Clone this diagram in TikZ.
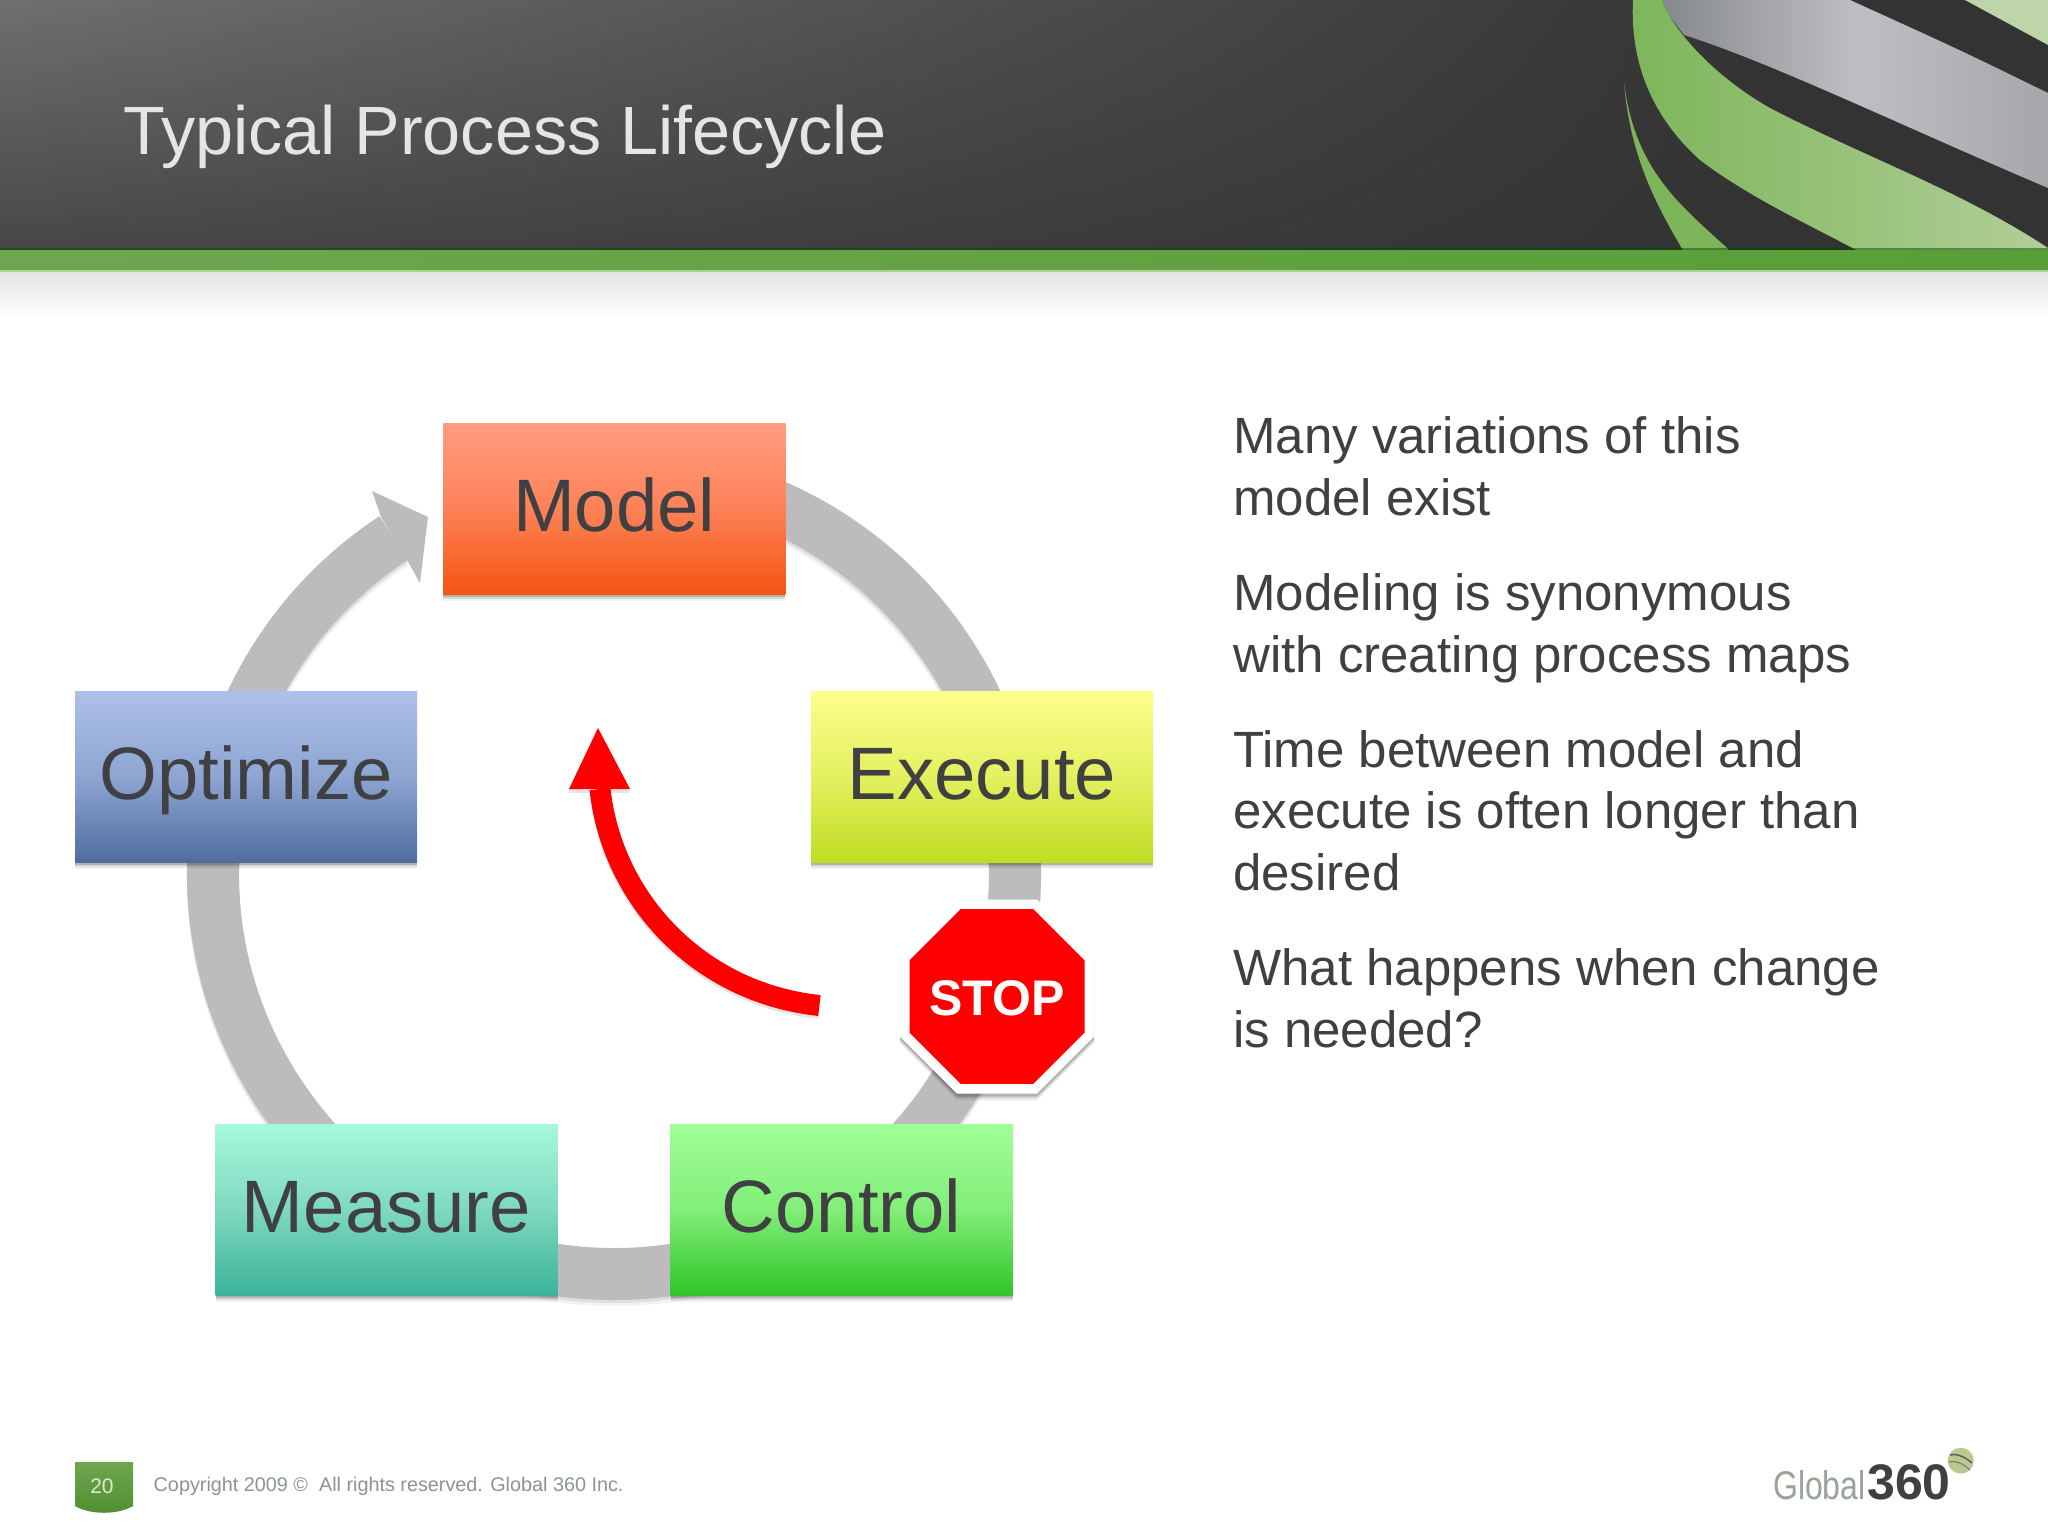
\documentclass[tikz,border=0pt]{standalone}
\usepackage{fontspec}
\setmainfont{Liberation Sans}
\usetikzlibrary{shapes.geometric,shadows,fadings,calc}
\definecolor{inkc}{HTML}{404042}
\definecolor{ringc}{HTML}{BDBBBE}
\definecolor{stopred}{HTML}{FF0000}
\definecolor{hdark}{HTML}{333333}
\definecolor{htop}{HTML}{707070}
\definecolor{hbot}{HTML}{484848}
\definecolor{bandl}{HTML}{6EA650}
\definecolor{bandr}{HTML}{589E36}
\definecolor{gra}{HTML}{7DB65A}
\definecolor{grb}{HTML}{B2CE98}
\definecolor{sla}{HTML}{85888C}
\definecolor{slb}{HTML}{BEBFC3}
\definecolor{slc}{HTML}{A6A7AB}
\definecolor{bandlite}{HTML}{A8D58E}
\definecolor{badgetxt}{HTML}{DCEDD0}
\definecolor{copytxt}{HTML}{8C9396}
\definecolor{globaltxt}{HTML}{98A498}
\definecolor{globec}{HTML}{B9C98F}
\definecolor{mta}{HTML}{FF9C80}\definecolor{mtm}{HTML}{FD8258}\definecolor{mtb}{HTML}{F45511}
\definecolor{exa}{HTML}{FCFE8C}\definecolor{exm}{HTML}{E4F060}\definecolor{exb}{HTML}{BFDD22}
\definecolor{opa}{HTML}{ADC0E8}\definecolor{opm}{HTML}{8EA5D2}\definecolor{opb}{HTML}{4E6D9F}
\definecolor{mea}{HTML}{A6F8DE}\definecolor{mem}{HTML}{7FD9BE}\definecolor{meb}{HTML}{3AB39A}
\definecolor{coa}{HTML}{A0FF96}\definecolor{com}{HTML}{82EE78}\definecolor{cob}{HTML}{2FC529}
\tikzset{
  softshade/.style={
    general shadow={fill=black,opacity=.05,shadow xshift=0pt,shadow yshift=-7pt},
    general shadow={fill=black,opacity=.10,shadow xshift=0pt,shadow yshift=-5pt},
    general shadow={fill=black,opacity=.18,shadow xshift=0pt,shadow yshift=-3pt}},
  stagebox/.style={rectangle,softshade,minimum width=342pt,minimum height=171pt,inner sep=0pt,
    text=inkc,font=\fontsize{74.3}{80}\selectfont,text height=52pt,text depth=7pt},
  bodytext/.style={anchor=base west,inner sep=0pt,align=left,text=inkc,font=\fontsize{51}{61.5}\selectfont},
  ringline/.style={line width=52pt,draw=ringc,line cap=butt},
  octagon/.style={regular polygon,regular polygon sides=8,inner sep=0pt},
}
\begin{document}
\begin{tikzpicture}[x=1pt,y=-1pt]
\useasboundingbox (0,0) rectangle (2048,1536);
\fill[white] (0,0) rectangle (2048,1536);
% header
\fill[hdark] (0,0) rectangle (2048,250);
\shade[top color=htop,bottom color=hbot,path fading=east] (0,0) rectangle (1800,250);
% ribbon
\begin{scope}
\clip (0,0) rectangle (2048,250);
\shade[left color=sla,right color=slc,middle color=slb]
  (1662,0) .. controls (1668,14) .. (1684,35)
  .. controls (1770,62) and (1900,125) .. (2048,188)
  -- (2048,93) .. controls (1960,50) .. (1850,0) -- cycle;
\shade[left color=gra,right color=grb]
  (1633,0) .. controls (1630,60) and (1650,115) .. (1700,160)
  .. controls (1750,198) and (1810,225) .. (1860,252)
  -- (2052,252) -- (2048,248)
  .. controls (1960,190) and (1860,155) .. (1770,108)
  .. controls (1720,80) and (1675,35) .. (1662,0) -- cycle;
\fill[gra]
  (1624,83) .. controls (1630,150) and (1650,195) .. (1684,252)
  -- (1730,252) -- (1727,248)
  .. controls (1680,205) and (1635,170) .. (1624,83) -- cycle;
\fill[grb!85!white] (1965,0) -- (2048,45) -- (2048,0) -- cycle;
\end{scope}
% green band and its shadow
\shade[left color=bandl,right color=bandr] (0,250) rectangle (2048,270);
\fill[black!70!green,opacity=.5] (0,247.5) rectangle (2048,250);
\fill[bandlite] (0,270) rectangle (2048,272);
\shade[top color=black!11,bottom color=white] (0,272) rectangle (2048,316);
% title
\node[anchor=base west,inner sep=0pt,text=black!10,font=\fontsize{68.3}{80}\selectfont] (title) at (123,154) {Typical Process Lifecycle};
% ring
\coordinate (c) at (614,873);
\draw[line width=52pt,draw=black,opacity=.05,line cap=butt] ($(c)+(0,6)$) ++(-123.3:401) arc[start angle=-123.3,end angle=-430,radius=401];
\draw[line width=52pt,draw=black,opacity=.08,line cap=butt] ($(c)+(0,3)$) ++(-123.3:401) arc[start angle=-123.3,end angle=-430,radius=401];
\draw[ringline] (c) ++(-123.3:401) arc[start angle=-123.3,end angle=-430,radius=401];
\coordinate (ringtip) at (428,517);
\coordinate (barbA) at (372,491);
\coordinate (neckA) at (381,517);
\coordinate (neckB) at (407,560);
\coordinate (barbB) at (420,583);
\fill[ringc] (ringtip) -- (barbA) -- (neckA) -- (neckB) -- (barbB) -- cycle;
% stages
\node[stagebox,top color=mta,bottom color=mtb,middle color=mtm] (model) at (614.25,508.5) {Model};
\node[stagebox,top color=exa,bottom color=exb,middle color=exm] (execute) at (982,776.5) {Execute};
\node[stagebox,top color=opa,bottom color=opb,middle color=opm] (optimize) at (246,776.5) {Optimize};
\node[stagebox,top color=mea,bottom color=meb,middle color=mem] (measure) at (386.5,1209.5) {Measure};
\node[stagebox,top color=coa,bottom color=cob,middle color=com] (control) at (841.5,1209.5) {Control};
% stop sign
\node[octagon,minimum size=210pt,fill=white,softshade] (stopback) at (997,996.5) {};
\node[octagon,minimum size=189.4pt,fill=stopred] (stopface) at (997,996.5) {};
\node[anchor=base,inner sep=0pt,text=white,font=\bfseries\fontsize{50}{56}\selectfont] (stop) at (997,1015.5) {STOP};
% red arrow
\coordinate (tailr) at (819.4,1005.5);
\coordinate (headr) at (600,789);
\coordinate (tipr) at (598,728);
\coordinate (leftr) at (569,789);
\coordinate (rightr) at (630,789);
\draw[line width=21pt,draw=black,opacity=.10] ($(tailr)+(0,3)$) .. controls (700,996) and (612,903) .. ($(headr)+(0,3)$);
\fill[black,opacity=.10] (leftr) -- ++(0,4) -- ($(rightr)+(0,4)$) -- (rightr) -- cycle;
\draw[line width=21pt,draw=stopred] (tailr) .. controls (700,993) and (612,900) .. (headr);
\fill[stopred] (tipr) -- (leftr) -- (rightr) -- cycle;
% body text
\node[bodytext] (p1) at (1233,515) {Many variations of this\\model exist};
\node[bodytext] (p2) at (1233,672) {Modeling is synonymous\\with creating process maps};
\node[bodytext] (p3) at (1233,890) {Time between model and\\execute is often longer than\\desired};
\node[bodytext] (p4) at (1233,1047) {What happens when change\\is needed?};
% footer
\shade[top color=bandl,bottom color=bandr!90!black] (75,1462) -- (133,1462) -- (133,1506) .. controls (118,1515) and (90,1515) .. (75,1506) -- cycle;
\node[inner sep=0pt,anchor=base,text=badgetxt,font=\fontsize{21}{24}\selectfont] (pageno) at (102,1493) {20};
\node[inner sep=0pt,anchor=base west,text=copytxt,font=\fontsize{19.8}{24}\selectfont] (copy) at (153.5,1491) {Copyright 2009 ©\ \ All rights reserved. Global 360 Inc.};
% logo
\node[inner sep=0pt,anchor=base west,text=globaltxt,xscale=.8,font=\fontsize{40}{42}\selectfont] (global) at (1773,1499) {Global};
\node[inner sep=0pt,anchor=base west,text=inkc,font=\bfseries\fontsize{50}{52}\selectfont] (num) at (1867,1499) {360};
\fill[globec] (1960.7,1460.7) circle (13);
\draw[black!65,line width=1.4pt] (1950,1455) .. controls (1958,1453) and (1966,1458) .. (1972,1463);
\draw[black!50,line width=1.2pt] (1949,1462) .. controls (1957,1460) and (1965,1465) .. (1970,1470);
\end{tikzpicture}
\end{document}
